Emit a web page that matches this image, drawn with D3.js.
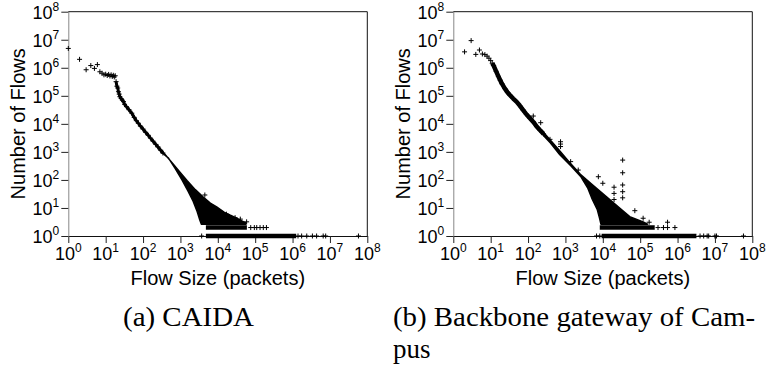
<!DOCTYPE html>
<html>
<head>
<meta charset="utf-8">
<script src="https://cdn.jsdelivr.net/npm/d3@7"></script>
<style>
  body { margin: 0; background: #fff; }
  svg { display: block; font-family: "Liberation Sans", Arial, sans-serif; }
</style>
</head>
<body>
<svg id="chart" width="766" height="377"></svg>
<script>
// decades used for the tick labels on both axes (10^0 .. 10^8)
var decades = [0, 1, 2, 3, 4, 5, 6, 7, 8];

// ---- (a) CAIDA : [flow size, number of flows] ----
var caidaHead = [[1,4.9e6],[2,2.0e6],[3,8.5e5],[4,1.2e6],[5,9.5e5],[6,1.3e6],[7,7.2e5],[8,6.4e5],
  [9,5.6e5],[10,5.9e5],[11,5.3e5],[12,5.8e5],[13,5.1e5],[14,5.6e5],[15,4.9e5],[16,5.4e5],[17,4.7e5],[18,5.2e5]];
var caidaCurve = [[19,3.2e5],[20,2.2e5],[21,1.9e5],[22,1.4e5],[23,1.15e5],[24,9.3e4],[26,8e4],[28,7e4],
  [30,6.2e4],[32,5e4],[36,4.1e4],[42,3.2e4],[50,2.4e4],[58,1.7e4],[66,1.3e4],[75,1.05e4],[85,8.3e3],
  [100,6.5e3],[117,5e3],[138,3.9e3],[158,3.1e3],[186,2.4e3],[219,1.85e3],[251,1.5e3],[295,1.15e3],[340,910]];
// outline of the dense cloud (upper edge left->right, then lower edge right->left)
var caidaCloud = [[316,1120],[630,380],[1000,182],[1500,95],[2500,45],[4000,25],[6310,15],[9300,11],
  [15000,7],[21000,5.6],[30000,4.5],[39800,3.7],[56200,2.9],[56200,2.65],[3630,2.65],[3300,3.7],[2800,7.5],
  [2200,17],[1600,40],[1100,100],[720,260],[480,600],[316,950]];
var caidaOutliers = [[4500,29],[17000,6],[29000,4.5],[40000,4],[59000,3.2]];
var caidaRow2 = [4800, 60000];          // solid run of flows with count 2
var caidaRow2Dots = [76000, 95000, 110000, 135000, 165000, 200000];
var caidaRow1 = [4800, 1.25e6];         // solid run of flows with count 1
var caidaRow1Dots = [3700, 1.4e6, 1.75e6, 2.4e6, 3.4e6, 4.4e6, 6.6e6, 7.7e6, 5.8e7];

// ---- (b) Backbone gateway of Campus ----
var campusHead = [[2,3.7e6],[3,9.3e6],[4,3.0e6],[5,4.3e6],[6,3.1e6],[7,2.95e6],[8,2.6e6],[9,2.2e6],[10,1.8e6]];
var campusCurve = [[11,1.45e6],[12,1.2e6],[14,7.5e5],[16,5e5],[18,3.6e5],[20,2.7e5],[24,1.8e5],[28,1.35e5],
  [33,1.05e5],[40,8e4],[49,6.2e4],[60,4.5e4],[74,3.1e4],[90,2.2e4],[112,1.6e4],[140,1.15e4],[170,8e3],
  [210,5.9e3],[260,4.4e3]];
var campusCloud = [[251,5250],[631,1300],[1260,440],[2510,160],[5010,71],[12600,25],[28800,9.8],[52500,4.9],
  [120000,3.2],[158000,2.65],[8900,2.65],[8300,4.0],[7080,8.9],[5250,20],[4000,50],[2630,126],[1410,316],
  [708,794],[398,2090],[251,3980]];
var campusOutliers = [[138,1.9e4],[218,1.1e4],[386,2800],[740,2300],[740,1900],[740,1550],[1380,450],
  [2200,225],[7600,130],[10000,76],[34000,510],[34000,180],[34000,66],[34000,38],[34000,23],
  [20000,55],[20000,33],[20000,20],[72000,8],[120000,4.3],[174000,3.1],[540000,3.1]];
var campusRow2 = [8300, 2.45e5];
var campusRow2Dots = [3.0e5, 4.2e5, 5.4e5, 8.5e5];
var campusRow1 = [9300, 3.2e6];
var campusRow1Dots = [6800, 8300, 4.0e6, 5.0e6, 6.2e6, 6.8e6, 1.0e7, 1.1e7, 5.8e7];

var svg = d3.select("#chart"),
    plotW = 299,
    plotH = 224.3;

var plus = "M-2.5,0H2.5M0,-2.5V2.5";

function panel(left, top, d) {
  var x = d3.scaleLog().domain([1, 1e8]).range([0, plotW]);
  var y = d3.scaleLog().domain([1, 1e8]).range([plotH, 0]);
  var ticks = decades.map(function(e) { return Math.pow(10, e); });

  var g = svg.append("g")
      .attr("transform", "translate(" + left + "," + top + ")");

  // axes with outward ticks, labels added by hand (10 + superscript)
  var xa = g.append("g")
      .attr("transform", "translate(0," + plotH + ")")
      .call(d3.axisBottom(x).tickValues(ticks).tickSize(7).tickSizeOuter(0).tickFormat(""));
  var ya = g.append("g")
      .call(d3.axisLeft(y).tickValues(ticks).tickSize(7).tickSizeOuter(0).tickFormat(""));
  xa.select(".domain").attr("stroke", "#111");
  ya.select(".domain").attr("stroke", "#888");
  g.selectAll(".tick line").attr("stroke", "#222");

  var xl = g.selectAll(".xlab").data(decades).enter().append("text")
      .attr("class", "xlab")
      .attr("x", function(e) { return x(Math.pow(10, e)); })
      .attr("y", plotH + 24)
      .attr("text-anchor", "middle")
      .style("font-size", "18px");
  xl.append("tspan").text("10");
  xl.append("tspan").attr("dy", -8).style("font-size", "12px").text(function(e) { return e; });

  var yl = g.selectAll(".ylab").data(decades).enter().append("text")
      .attr("class", "ylab")
      .attr("x", -9)
      .attr("y", function(e) { return y(Math.pow(10, e)) + 7; })
      .attr("text-anchor", "end")
      .style("font-size", "18px");
  yl.append("tspan").text("10");
  yl.append("tspan").attr("dy", -8).style("font-size", "12px").text(function(e) { return e; });

  // frame: top and right
  g.append("line").attr("x1", 0).attr("x2", plotW).attr("y1", 0).attr("y2", 0).attr("stroke", "#111");
  g.append("line").attr("x1", plotW).attr("x2", plotW).attr("y1", 0).attr("y2", plotH).attr("stroke", "#111");

  g.append("text")
      .attr("transform", "translate(-43," + (plotH / 2) + ") rotate(-90)")
      .attr("text-anchor", "middle")
      .style("font-size", "20px")
      .text("Number of Flows");
  g.append("text")
      .attr("x", plotW / 2)
      .attr("y", plotH + 49)
      .attr("text-anchor", "middle")
      .style("font-size", "20px")
      .text("Flow Size (packets)");

  var line = d3.line().x(function(p) { return x(p[0]); }).y(function(p) { return y(p[1]); });

  // dense cloud
  g.append("path")
      .attr("d", line(d.cloud) + "Z")
      .attr("fill", "#000")
      .attr("stroke", "#000")
      .attr("stroke-width", 1.5)
      .attr("stroke-linejoin", "round");

  // count = 2 and count = 1 runs
  [[d.row2, 2], [d.row1, 1]].forEach(function(r) {
    g.append("line")
        .attr("x1", x(r[0][0])).attr("x2", x(r[0][1]))
        .attr("y1", y(r[1])).attr("y2", y(r[1]))
        .attr("stroke", "#000").attr("stroke-width", 4.5);
  });

  // main curve as a thick trace plus its markers
  g.append("path")
      .attr("d", line(d.curve))
      .attr("fill", "none")
      .attr("stroke", "#000")
      .attr("stroke-width", d.trace)
      .attr("stroke-linejoin", "round");

  var pts = d.head.concat(d.curve, d.outliers,
      d.row2Dots.map(function(v) { return [v, 2]; }),
      d.row1Dots.map(function(v) { return [v, 1]; }));
  g.selectAll(".pt").data(pts).enter().append("path")
      .attr("class", "pt")
      .attr("d", plus)
      .attr("transform", function(p) { return "translate(" + x(p[0]) + "," + y(p[1]) + ")"; })
      .attr("stroke", "#000")
      .attr("stroke-width", 1)
      .attr("fill", "none");
}

panel(68.3, 11.7, {head: caidaHead, curve: caidaCurve, cloud: caidaCloud, outliers: caidaOutliers,
  row2: caidaRow2, row2Dots: caidaRow2Dots, row1: caidaRow1, row1Dots: caidaRow1Dots, trace: 3});
panel(453.3, 11.7, {head: campusHead, curve: campusCurve, cloud: campusCloud, outliers: campusOutliers,
  row2: campusRow2, row2Dots: campusRow2Dots, row1: campusRow1, row1Dots: campusRow1Dots, trace: 4.5});

// sub-figure captions
var cap = svg.append("g").style("font-family", "'Liberation Serif', 'DejaVu Serif', serif").style("font-size", "27px");
cap.append("text").attr("x", 123).attr("y", 326).attr("textLength", 131).attr("lengthAdjust", "spacingAndGlyphs").text("(a) CAIDA");
cap.append("text").attr("x", 393).attr("y", 326).attr("textLength", 362).attr("lengthAdjust", "spacingAndGlyphs").text("(b) Backbone gateway of Cam-");
cap.append("text").attr("x", 393).attr("y", 358).text("pus");
</script>
</body>
</html>
